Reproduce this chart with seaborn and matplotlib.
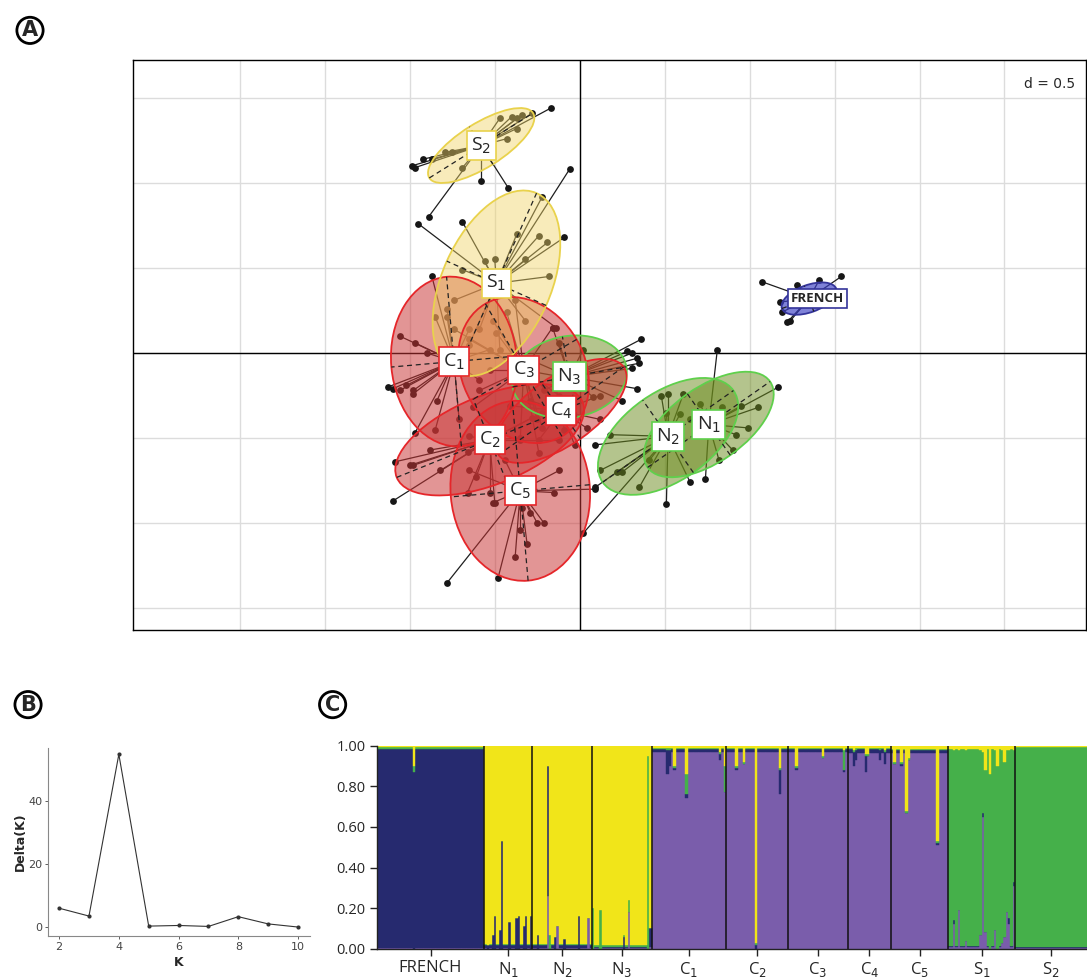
import numpy as np
import pandas as pd
import matplotlib.pyplot as plt
from matplotlib.patches import Ellipse
import seaborn as sns

# ---------------- panel A : PCA of individuals ----------------
pops = ['FRENCH', 'N1', 'N2', 'N3', 'C1', 'C2', 'C3', 'C4', 'C5', 'S1', 'S2']
pop_labels = ['FRENCH', 'N$_1$', 'N$_2$', 'N$_3$', 'C$_1$', 'C$_2$', 'C$_3$',
              'C$_4$', 'C$_5$', 'S$_1$', 'S$_2$']
center_x = [1.35, 0.76, 0.52, -0.06, -0.74, -0.53, -0.33, -0.11, -0.35, -0.49, -0.58]
center_y = [0.32, -0.42, -0.49, -0.14, -0.05, -0.51, -0.10, -0.34, -0.81, 0.41, 1.22]
ell_major = [0.17, 0.44, 0.47, 0.34, 0.50, 0.59, 0.45, 0.45, 0.53, 0.58, 0.36]
ell_minor = [0.08, 0.22, 0.26, 0.24, 0.37, 0.26, 0.36, 0.20, 0.41, 0.32, 0.13]
ell_angle = [20, 35, 35, 10, 95, 22, 120, 35, 95, 66, 32]

pts_french = [(1.07, 0.42), (1.54, 0.45), (1.18, 0.30), (1.22, 0.18), (1.19, 0.24),
              (1.41, 0.43), (1.28, 0.40), (1.24, 0.19)]
pts_n1 = [(0.81, 0.02), (1.17, -0.20), (1.05, -0.32), (0.95, -0.31), (0.99, -0.44),
          (0.84, -0.32), (0.71, -0.30), (0.74, -0.74), (0.82, -0.63), (0.90, -0.57),
          (0.92, -0.48), (0.65, -0.39)]
pts_n2 = [(0.48, -0.25), (0.52, -0.24), (0.61, -0.24), (0.51, -0.35), (0.59, -0.36),
          (0.09, -0.54), (0.18, -0.48), (0.12, -0.69), (0.09, -0.79), (0.22, -0.70),
          (0.25, -0.70), (0.35, -0.79), (0.51, -0.89), (0.65, -0.76), (0.02, -1.06),
          (0.41, -0.63)]
pts_n3 = [(0.36, 0.08), (0.28, 0.01), (0.31, 0.00), (0.34, -0.03), (0.35, -0.06),
          (0.31, -0.09), (0.34, -0.21), (0.25, -0.28), (-0.16, 0.15), (-0.12, 0.06),
          (0.02, 0.02), (0.08, -0.26), (-0.21, -0.22), (-0.29, -0.04)]
pts_c1 = [(-1.13, -0.20), (-1.10, -0.21), (-1.06, -0.22), (-1.02, -0.19), (-0.98, -0.22),
          (-0.98, -0.24), (-0.97, 0.06), (-0.90, 0.00), (-0.84, -0.28), (-0.97, -0.47),
          (-0.85, -0.45), (-0.85, 0.21), (-0.78, 0.26), (-1.06, 0.10), (-0.78, 0.21),
          (-0.87, 0.45), (-0.65, 0.14), (-0.59, -0.16), (-0.71, -0.39), (-0.53, 0.02)]
pts_c2 = [(-1.09, -0.64), (-1.10, -0.87), (-1.00, -0.66), (-0.98, -0.66), (-0.66, -0.58),
          (-0.61, -0.73), (-0.66, -0.82), (-0.53, -0.82), (-0.50, -0.88), (-0.35, -0.50),
          (-0.28, -0.38), (-0.22, -0.35), (-0.65, -0.49), (-0.82, -0.69), (-0.88, -0.57),
          (-0.12, -0.51)]
pts_c3 = [(-0.51, 0.19), (-0.49, 0.12), (-0.43, 0.24), (-0.16, 0.15), (-0.53, -0.10),
          (-0.63, -0.32), (-0.22, -0.44), (-0.25, -0.39), (-0.24, -0.59), (-0.65, 0.08),
          (-0.38, 0.31), (-0.12, -0.25), (-0.59, -0.22), (0.00, -0.16), (-0.74, 0.14),
          (-0.35, -0.51)]
pts_c4 = [(0.04, -0.44), (0.12, -0.25), (-0.34, -0.04), (-0.41, -0.31), (-0.24, -0.51),
          (-0.03, -0.54), (0.12, -0.39), (-0.29, -0.28), (-0.15, -0.16), (-0.09, -0.45)]
pts_c5 = [(-0.38, -1.20), (-0.31, -1.12), (-0.35, -1.04), (-0.25, -1.00), (-0.21, -1.00),
          (-0.34, -0.91), (-0.15, -0.82), (-0.48, -1.32), (-0.78, -1.35), (-0.29, -0.94),
          (-0.51, -0.88), (-0.65, -0.69), (-0.12, -0.69), (-0.44, -0.63), (0.09, -0.80)]
pts_s1 = [(-0.06, 1.08), (-0.22, 0.92), (-0.95, 0.76), (-0.69, 0.77), (-0.37, 0.70),
          (-0.24, 0.69), (-0.19, 0.65), (-0.09, 0.68), (-0.32, 0.55), (-0.56, 0.54),
          (-0.50, 0.55), (-0.69, 0.49), (-0.18, 0.45), (-0.14, 0.15), (-0.32, 0.19),
          (-0.59, 0.14), (-0.74, 0.31), (-0.47, 0.02), (-0.65, 0.05)]
pts_s2 = [(-0.17, 1.44), (-0.28, 1.41), (-0.34, 1.40), (-0.37, 1.38), (-0.40, 1.39),
          (-0.47, 1.38), (-0.37, 1.32), (-0.43, 1.26), (-0.75, 1.18), (-0.79, 1.18),
          (-0.87, 1.14), (-0.92, 1.14), (-0.99, 1.10), (-0.97, 1.09), (-0.69, 1.09),
          (-0.58, 1.01), (-0.42, 0.97), (-0.89, 0.80)]
pop_points = [pts_french, pts_n1, pts_n2, pts_n3, pts_c1, pts_c2, pts_c3, pts_c4,
              pts_c5, pts_s1, pts_s2]

# ---------------- panel B : Evanno delta K ----------------
k_vals = [2, 3, 4, 5, 6, 7, 8, 9, 10]
delta_k = [6.0, 3.5, 55.0, 0.3, 0.5, 0.2, 3.3, 1.0, 0.0]

# ---------------- panel C : STRUCTURE membership ----------------
# cluster order bottom -> top: purple, navy, green, yellow
struct_sizes = [45, 20, 25, 25, 31, 26, 25, 18, 24, 28, 30]
struct_base = [[0.003, 0.982, 0.010, 0.005],
               [0.005, 0.015, 0.005, 0.975],
               [0.005, 0.015, 0.005, 0.975],
               [0.003, 0.005, 0.012, 0.980],
               [0.970, 0.012, 0.008, 0.010],
               [0.970, 0.012, 0.008, 0.010],
               [0.970, 0.012, 0.008, 0.010],
               [0.965, 0.017, 0.008, 0.010],
               [0.965, 0.012, 0.008, 0.015],
               [0.010, 0.005, 0.970, 0.015],
               [0.003, 0.005, 0.987, 0.005]]
# individuals that differ from their population's usual profile
struct_odd = [
    ('FRENCH', 15, 0.00, 0.87, 0.03, 0.10),
    ('N1', 1, 0.00, 0.02, 0.00, 0.98), ('N1', 3, 0.00, 0.07, 0.00, 0.93),
    ('N1', 4, 0.00, 0.16, 0.00, 0.84), ('N1', 6, 0.00, 0.09, 0.00, 0.91),
    ('N1', 7, 0.00, 0.53, 0.00, 0.47), ('N1', 10, 0.00, 0.13, 0.00, 0.87),
    ('N1', 13, 0.00, 0.15, 0.00, 0.85), ('N1', 14, 0.00, 0.16, 0.00, 0.84),
    ('N1', 16, 0.00, 0.11, 0.00, 0.89), ('N1', 17, 0.00, 0.16, 0.00, 0.84),
    ('N1', 19, 0.00, 0.16, 0.00, 0.84),
    ('N2', 2, 0.00, 0.07, 0.00, 0.93), ('N2', 6, 0.26, 0.64, 0.00, 0.10),
    ('N2', 7, 0.00, 0.00, 0.07, 0.93), ('N2', 9, 0.00, 0.06, 0.00, 0.94),
    ('N2', 10, 0.11, 0.00, 0.00, 0.89), ('N2', 13, 0.00, 0.05, 0.00, 0.95),
    ('N2', 19, 0.00, 0.16, 0.00, 0.84), ('N2', 23, 0.15, 0.00, 0.00, 0.85),
    ('N3', 0, 0.00, 0.00, 0.20, 0.80), ('N3', 3, 0.00, 0.00, 0.19, 0.81),
    ('N3', 13, 0.00, 0.06, 0.01, 0.93), ('N3', 15, 0.18, 0.00, 0.06, 0.76),
    ('N3', 23, 0.00, 0.00, 0.95, 0.05), ('N3', 24, 0.01, 0.09, 0.00, 0.90),
    ('C1', 6, 0.86, 0.12, 0.01, 0.01), ('C1', 7, 0.90, 0.08, 0.01, 0.01),
    ('C1', 9, 0.88, 0.01, 0.01, 0.10), ('C1', 14, 0.74, 0.02, 0.10, 0.14),
    ('C1', 28, 0.93, 0.03, 0.01, 0.03), ('C1', 30, 0.77, 0.00, 0.13, 0.10),
    ('C2', 4, 0.88, 0.01, 0.01, 0.10), ('C2', 7, 0.91, 0.00, 0.01, 0.08),
    ('C2', 12, 0.00, 0.02, 0.01, 0.97), ('C2', 22, 0.76, 0.12, 0.01, 0.11),
    ('C3', 3, 0.88, 0.01, 0.01, 0.10), ('C3', 14, 0.94, 0.00, 0.01, 0.05),
    ('C3', 23, 0.87, 0.01, 0.10, 0.02),
    ('C4', 2, 0.90, 0.07, 0.01, 0.02), ('C4', 3, 0.93, 0.05, 0.01, 0.01),
    ('C4', 7, 0.87, 0.08, 0.01, 0.04), ('C4', 8, 0.95, 0.00, 0.01, 0.04),
    ('C4', 13, 0.93, 0.05, 0.01, 0.01), ('C4', 15, 0.91, 0.06, 0.01, 0.02),
    ('C5', 1, 0.91, 0.00, 0.01, 0.08), ('C5', 4, 0.90, 0.01, 0.01, 0.08),
    ('C5', 6, 0.67, 0.00, 0.01, 0.32), ('C5', 7, 0.93, 0.00, 0.01, 0.06),
    ('C5', 19, 0.51, 0.01, 0.01, 0.47),
    ('S1', 2, 0.12, 0.02, 0.84, 0.02), ('S1', 4, 0.19, 0.00, 0.79, 0.02),
    ('S1', 7, 0.04, 0.00, 0.94, 0.02), ('S1', 13, 0.07, 0.00, 0.91, 0.02),
    ('S1', 14, 0.65, 0.02, 0.30, 0.03), ('S1', 15, 0.08, 0.00, 0.80, 0.12),
    ('S1', 17, 0.00, 0.00, 0.86, 0.14), ('S1', 19, 0.09, 0.00, 0.89, 0.02),
    ('S1', 20, 0.00, 0.00, 0.90, 0.10), ('S1', 22, 0.03, 0.00, 0.95, 0.02),
    ('S1', 23, 0.06, 0.00, 0.86, 0.08), ('S1', 24, 0.18, 0.00, 0.80, 0.02),
    ('S1', 25, 0.12, 0.03, 0.83, 0.02), ('S1', 27, 0.31, 0.02, 0.65, 0.02),
]
cluster_colors = ['#7a5dab', '#262a6f', '#45b04a', '#f1e519']

region_fill = {'F': '#3b3fc4', 'N': '#6b8a1c', 'C': '#c93434', 'S': '#f0d466'}
region_edge = {'F': '#34349a', 'N': '#5fd04c', 'C': '#e5262a', 'S': '#e9d24c'}
region_alpha = {'F': 0.65, 'N': 0.5, 'C': 0.52, 'S': 0.45}

sns.set_theme(style='white')
plt.rcParams['font.family'] = ['DejaVu Sans']

fig = plt.figure(figsize=(10.87, 9.8), dpi=100)

# ---------- A ----------
axA = fig.add_axes([0.1224, 0.357, 0.877, 0.582])
axA.set_xlim(-2.629, 2.982)
axA.set_ylim(-1.629, 1.724)
axA.set_xticks(np.arange(-2.0, 3.0, 0.5))
axA.set_yticks(np.arange(-1.5, 2.0, 0.5))
axA.grid(True, color='#dcdcdc', lw=1)
axA.tick_params(length=0, labelbottom=False, labelleft=False)
for s in axA.spines.values():
    s.set_color('black')
    s.set_linewidth(1)
axA.axhline(0, color='black', lw=1, zorder=1)
axA.axvline(0, color='black', lw=1, zorder=1)

rows = []
for pop, pts in zip(pops, pop_points):
    for x, y in pts:
        rows.append({'pop': pop, 'x': x, 'y': y})
dfA = pd.DataFrame(rows)

for i, pop in enumerate(pops):
    cx, cy = center_x[i], center_y[i]
    sub = dfA[dfA['pop'] == pop]
    for x, y in zip(sub['x'], sub['y']):
        axA.plot([cx, x], [cy, y], color='#1e1e1e', lw=0.9, zorder=2)

sns.scatterplot(data=dfA, x='x', y='y', color='#161616', s=24, linewidth=0,
                ax=axA, zorder=2.5, legend=False)

for i, pop in enumerate(pops):
    r = pop[0]
    cx, cy = center_x[i], center_y[i]
    a, b, ang = ell_major[i], ell_minor[i], ell_angle[i]
    axA.add_patch(Ellipse((cx, cy), 2 * a, 2 * b, angle=ang, fc=region_fill[r],
                          ec='none', alpha=region_alpha[r], zorder=3))
    axA.add_patch(Ellipse((cx, cy), 2 * a, 2 * b, angle=ang, fc='none',
                          ec=region_edge[r], lw=1.3, zorder=3.2))
    t = np.deg2rad(ang)
    axA.plot([cx - a * np.cos(t), cx + a * np.cos(t)],
             [cy - a * np.sin(t), cy + a * np.sin(t)],
             color='#222222', lw=0.9, ls=(0, (4, 3)), zorder=3.4)
    axA.plot([cx + b * np.sin(t), cx - b * np.sin(t)],
             [cy - b * np.cos(t), cy + b * np.cos(t)],
             color='#222222', lw=0.9, ls=(0, (4, 3)), zorder=3.4)

for i, pop in enumerate(pops):
    r = pop[0]
    if r == 'F':
        axA.text(center_x[i] + 0.05, center_y[i], pop_labels[i], ha='center', va='center',
                 fontsize=9.5, fontweight='bold', family=['Open Sans', 'DejaVu Sans'],
                 bbox=dict(boxstyle='square,pad=0.25', fc='white', ec=region_edge[r], lw=1.2),
                 zorder=6)
    else:
        axA.text(center_x[i], center_y[i], pop_labels[i], ha='center', va='center',
                 fontsize=14, family=['Open Sans', 'DejaVu Sans'],
                 bbox=dict(boxstyle='square,pad=0.22', fc='white', ec=region_edge[r], lw=1.2),
                 zorder=6)

axA.text(0.988, 0.97, 'd = 0.5', transform=axA.transAxes, ha='right', va='top',
         fontsize=10, bbox=dict(fc='white', ec='none', pad=1), zorder=7)
axA.set_xlabel('PCA axis 1 (17.9%)', fontsize=16, labelpad=12)
axA.set_ylabel('PCA axis 2 (12%)', fontsize=16, labelpad=14)

# ---------- B ----------
axB = fig.add_axes([0.0442, 0.0449, 0.2410, 0.1918])
sns.lineplot(x=k_vals, y=delta_k, ax=axB, color='#333333', lw=0.8,
             marker='o', markersize=3, markeredgewidth=0)
axB.set_xlim(1.63, 10.4)
axB.set_ylim(-2.85, 57)
axB.set_xticks([2, 4, 6, 8, 10])
axB.set_yticks([0, 20, 40])
for s in ['top', 'right']:
    axB.spines[s].set_visible(False)
for s in ['left', 'bottom']:
    axB.spines[s].set_color('#888888')
    axB.spines[s].set_linewidth(0.8)
axB.tick_params(axis='both', labelsize=8, colors='#444444', length=2, width=0.6,
                left=True, bottom=True, pad=2)
axB.set_xlabel('K', fontsize=9, fontweight='bold', labelpad=3)
axB.set_ylabel('Delta(K)', fontsize=9, fontweight='bold', labelpad=1)

# ---------- C ----------
q = []
for p, n, base in zip(pops, struct_sizes, struct_base):
    block = np.tile(np.array(base, dtype=float), (n, 1))
    for o in struct_odd:
        if o[0] == p:
            block[o[1]] = o[2:]
    q.append(block)
q = np.vstack(q)
q = q / q.sum(axis=1, keepdims=True)
n_ind = q.shape[0]

axC = fig.add_axes([0.3466, 0.0319, 0.6534, 0.2072])
xs = np.arange(n_ind)
bottom = np.zeros(n_ind)
for k in range(4):
    axC.bar(xs, q[:, k], bottom=bottom, width=1.0, color=cluster_colors[k],
            edgecolor=cluster_colors[k], linewidth=0.3)
    bottom = bottom + q[:, k]

bounds = np.cumsum(struct_sizes)
for b in bounds[:-1]:
    axC.axvline(b - 0.5, color='#111111', lw=1.1)
starts = np.concatenate([[0], bounds[:-1]])
mids = starts + np.array(struct_sizes) / 2 - 0.5
axC.set_xlim(-0.5, n_ind - 0.5)
axC.set_ylim(0, 1.0)
axC.set_xticks(mids)
axC.set_xticklabels(pop_labels, fontsize=12, family=['Open Sans', 'DejaVu Sans'])
axC.set_yticks([0, 0.2, 0.4, 0.6, 0.8, 1.0])
axC.set_yticklabels(['0.00', '0.20', '0.40', '0.60', '0.80', '1.00'], fontsize=10.5,
                    family=['Open Sans', 'DejaVu Sans'])
for s in ['top', 'right']:
    axC.spines[s].set_visible(False)
for s in ['left', 'bottom']:
    axC.spines[s].set_color('#222222')
    axC.spines[s].set_linewidth(1)
axC.tick_params(axis='both', length=5, width=1, color='#222222', left=True,
                bottom=True, direction='out', pad=3)

# panel letters
for letter, fx, fy in [('A', 0.0276, 0.969), ('B', 0.0258, 0.281), ('C', 0.306, 0.281)]:
    fig.text(fx, fy, letter, fontsize=15, fontweight='bold', ha='center', va='center',
             bbox=dict(boxstyle='circle,pad=0.15', fc='white', ec='black', lw=2))

fig.savefig('out.png', dpi=100)
